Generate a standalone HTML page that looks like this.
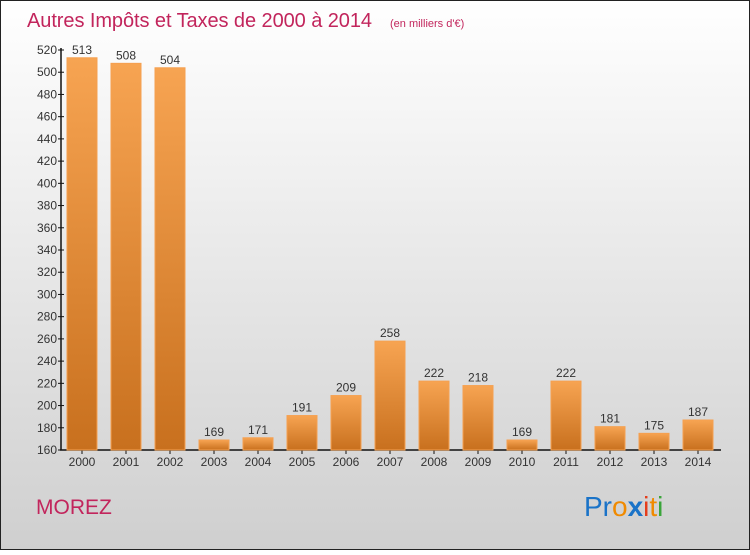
<!DOCTYPE html>
<html><head><meta charset="utf-8"><style>
html,body{margin:0;padding:0}
body{width:750px;height:550px;overflow:hidden;font-family:"Liberation Sans",sans-serif}
</style></head><body>
<svg width="750" height="550" xmlns="http://www.w3.org/2000/svg">
<defs>
<linearGradient id="bg" x1="0" y1="0" x2="0" y2="1"><stop offset="0" stop-color="#ffffff"/><stop offset="1" stop-color="#cfcfcf"/></linearGradient>
<linearGradient id="bar" x1="0" y1="0" x2="0" y2="1"><stop offset="0" stop-color="#f7a452"/><stop offset="1" stop-color="#c8701e"/></linearGradient>
</defs>
<rect x="0.5" y="0.5" width="749" height="549" fill="url(#bg)" stroke="#222"/>
<text x="27" y="27" font-size="20" fill="#c2255c" textLength="345">Autres Impôts et Taxes de 2000 à 2014</text>
<text x="390" y="27" font-size="11" fill="#c2255c">(en milliers d'€)</text>
<g id="axes"></g>
<g id="bars"></g>
<text x="36" y="514" font-size="21" fill="#c2255c">MOREZ</text>
<text x="584" y="516" font-size="28"><tspan fill="#1a73c8">Pr</tspan><tspan fill="#f08a00">o</tspan><tspan fill="#1a73c8" font-weight="bold">x</tspan><tspan fill="#e53d1b">i</tspan><tspan fill="#f08a00">t</tspan><tspan fill="#3aa53a">i</tspan></text>
</svg>
<script>
const years=["2000","2001","2002","2003","2004","2005","2006","2007","2008","2009","2010","2011","2012","2013","2014"];
const values=[513,508,504,169,171,191,209,258,222,218,169,222,181,175,187];
const yTicks=[160,180,200,220,240,260,280,300,320,340,360,380,400,420,440,460,480,500,520];
const NS="http://www.w3.org/2000/svg";
const y0=450,y1=50,vmin=160,vmax=520;
function ys(v){return y0-(v-vmin)/(vmax-vmin)*(y0-y1);}
function xs(i){return 82+i*44;}
function mk(t,a,p){const e=document.createElementNS(NS,t);for(const k in a)e.setAttribute(k,a[k]);p.appendChild(e);return e;}
const ax=document.getElementById('axes'),bg=document.getElementById('bars');
yTicks.forEach(v=>{
 const l=mk('line',{x1:58,x2:64,y1:ys(v),y2:ys(v),stroke:'#111'},ax);
 
 
 const t=mk('text',{x:57,y:ys(v)+4,'text-anchor':'end','font-size':12,fill:'#333'},ax);
 t.textContent=v;
 
 
});
years.forEach((y,i)=>{
 const v=values[i],top=ys(v);
 const r=mk('rect',{x:xs(i)-15,y:top,width:30,height:y0-top,fill:'url(#bar)',stroke:'#f5a050','stroke-width':1},bg);
 
 
 const t=mk('text',{x:xs(i),y:top-4,'text-anchor':'middle','font-size':12,fill:'#333'},bg);
 t.textContent=v;
 
 
 const k=mk('line',{x1:xs(i),x2:xs(i),y1:y0,y2:y0+4,stroke:'#111'},ax);
 
 
 const xl=mk('text',{x:xs(i),y:466,'text-anchor':'middle','font-size':12,fill:'#333'},ax);
 xl.textContent=y;
 
 
});
const ya=mk('line',{x1:61,x2:61,y1:y1-2,y2:y0,stroke:'#111','stroke-width':1.5},ax);


const xa=mk('line',{x1:60,x2:721,y1:y0,y2:y0,stroke:'#111','stroke-width':1.5},ax);


</script>
</body></html>
